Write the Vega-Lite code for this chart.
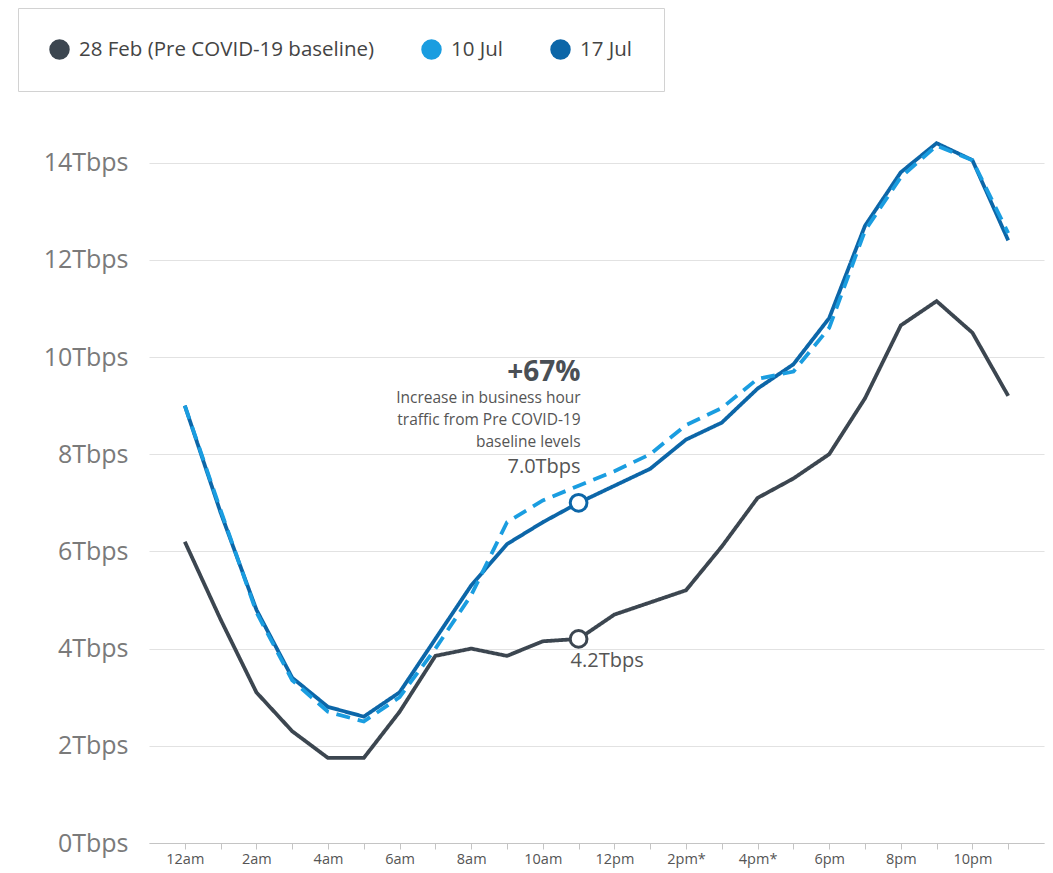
{
  "$schema": "https://vega.github.io/schema/vega-lite/v6.json",
  "autosize": "none",
  "padding": {"left": 149, "top": 114, "right": 9, "bottom": 30},
  "width": 895,
  "height": 729,
  "background": "white",
  "config": {
    "font": "Open Sans",
    "view": {"stroke": null}
  },
  "data": {
    "values": [
      {"hour": 0, "date": "28 Feb (Pre COVID-19 baseline)", "tbps": 6.2},
      {"hour": 1, "date": "28 Feb (Pre COVID-19 baseline)", "tbps": 4.6},
      {"hour": 2, "date": "28 Feb (Pre COVID-19 baseline)", "tbps": 3.1},
      {"hour": 3, "date": "28 Feb (Pre COVID-19 baseline)", "tbps": 2.3},
      {"hour": 4, "date": "28 Feb (Pre COVID-19 baseline)", "tbps": 1.75},
      {"hour": 5, "date": "28 Feb (Pre COVID-19 baseline)", "tbps": 1.75},
      {"hour": 6, "date": "28 Feb (Pre COVID-19 baseline)", "tbps": 2.7},
      {"hour": 7, "date": "28 Feb (Pre COVID-19 baseline)", "tbps": 3.85},
      {"hour": 8, "date": "28 Feb (Pre COVID-19 baseline)", "tbps": 4.0},
      {"hour": 9, "date": "28 Feb (Pre COVID-19 baseline)", "tbps": 3.85},
      {"hour": 10, "date": "28 Feb (Pre COVID-19 baseline)", "tbps": 4.15},
      {"hour": 11, "date": "28 Feb (Pre COVID-19 baseline)", "tbps": 4.2},
      {"hour": 12, "date": "28 Feb (Pre COVID-19 baseline)", "tbps": 4.7},
      {"hour": 13, "date": "28 Feb (Pre COVID-19 baseline)", "tbps": 4.95},
      {"hour": 14, "date": "28 Feb (Pre COVID-19 baseline)", "tbps": 5.2},
      {"hour": 15, "date": "28 Feb (Pre COVID-19 baseline)", "tbps": 6.1},
      {"hour": 16, "date": "28 Feb (Pre COVID-19 baseline)", "tbps": 7.1},
      {"hour": 17, "date": "28 Feb (Pre COVID-19 baseline)", "tbps": 7.5},
      {"hour": 18, "date": "28 Feb (Pre COVID-19 baseline)", "tbps": 8.0},
      {"hour": 19, "date": "28 Feb (Pre COVID-19 baseline)", "tbps": 9.15},
      {"hour": 20, "date": "28 Feb (Pre COVID-19 baseline)", "tbps": 10.65},
      {"hour": 21, "date": "28 Feb (Pre COVID-19 baseline)", "tbps": 11.15},
      {"hour": 22, "date": "28 Feb (Pre COVID-19 baseline)", "tbps": 10.5},
      {"hour": 23, "date": "28 Feb (Pre COVID-19 baseline)", "tbps": 9.2},
      {"hour": 0, "date": "17 Jul", "tbps": 9.0},
      {"hour": 1, "date": "17 Jul", "tbps": 6.8},
      {"hour": 2, "date": "17 Jul", "tbps": 4.8},
      {"hour": 3, "date": "17 Jul", "tbps": 3.4},
      {"hour": 4, "date": "17 Jul", "tbps": 2.8},
      {"hour": 5, "date": "17 Jul", "tbps": 2.6},
      {"hour": 6, "date": "17 Jul", "tbps": 3.1},
      {"hour": 7, "date": "17 Jul", "tbps": 4.2},
      {"hour": 8, "date": "17 Jul", "tbps": 5.3},
      {"hour": 9, "date": "17 Jul", "tbps": 6.15},
      {"hour": 10, "date": "17 Jul", "tbps": 6.6},
      {"hour": 11, "date": "17 Jul", "tbps": 7.0},
      {"hour": 12, "date": "17 Jul", "tbps": 7.35},
      {"hour": 13, "date": "17 Jul", "tbps": 7.7},
      {"hour": 14, "date": "17 Jul", "tbps": 8.3},
      {"hour": 15, "date": "17 Jul", "tbps": 8.65},
      {"hour": 16, "date": "17 Jul", "tbps": 9.35},
      {"hour": 17, "date": "17 Jul", "tbps": 9.85},
      {"hour": 18, "date": "17 Jul", "tbps": 10.8},
      {"hour": 19, "date": "17 Jul", "tbps": 12.7},
      {"hour": 20, "date": "17 Jul", "tbps": 13.8},
      {"hour": 21, "date": "17 Jul", "tbps": 14.4},
      {"hour": 22, "date": "17 Jul", "tbps": 14.05},
      {"hour": 23, "date": "17 Jul", "tbps": 12.4},
      {"hour": 0, "date": "10 Jul", "tbps": 9.0},
      {"hour": 1, "date": "10 Jul", "tbps": 6.85},
      {"hour": 2, "date": "10 Jul", "tbps": 4.75},
      {"hour": 3, "date": "10 Jul", "tbps": 3.35},
      {"hour": 4, "date": "10 Jul", "tbps": 2.7},
      {"hour": 5, "date": "10 Jul", "tbps": 2.5},
      {"hour": 6, "date": "10 Jul", "tbps": 3.0},
      {"hour": 7, "date": "10 Jul", "tbps": 4.0},
      {"hour": 8, "date": "10 Jul", "tbps": 5.1},
      {"hour": 9, "date": "10 Jul", "tbps": 6.6},
      {"hour": 10, "date": "10 Jul", "tbps": 7.05},
      {"hour": 11, "date": "10 Jul", "tbps": 7.35},
      {"hour": 12, "date": "10 Jul", "tbps": 7.65},
      {"hour": 13, "date": "10 Jul", "tbps": 8.0},
      {"hour": 14, "date": "10 Jul", "tbps": 8.6},
      {"hour": 15, "date": "10 Jul", "tbps": 8.95},
      {"hour": 16, "date": "10 Jul", "tbps": 9.55},
      {"hour": 17, "date": "10 Jul", "tbps": 9.7},
      {"hour": 18, "date": "10 Jul", "tbps": 10.6},
      {"hour": 19, "date": "10 Jul", "tbps": 12.6},
      {"hour": 20, "date": "10 Jul", "tbps": 13.7},
      {"hour": 21, "date": "10 Jul", "tbps": 14.35},
      {"hour": 22, "date": "10 Jul", "tbps": 14.05},
      {"hour": 23, "date": "10 Jul", "tbps": 12.55}
    ]
  },
  "encoding": {
    "x": {
      "field": "hour",
      "type": "quantitative",
      "scale": {"domain": [-1, 24], "nice": false, "zero": false},
      "axis": {
        "title": null,
        "grid": false,
        "values": [0, 1, 2, 3, 4, 5, 6, 7, 8, 9, 10, 11, 12, 13, 14, 15, 16, 17, 18, 19, 20, 21, 22, 23],
        "labelExpr": "['12am','','2am','','4am','','6am','','8am','','10am','','12pm','','2pm*','','4pm*','','6pm','','8pm','','10pm',''][datum.value]",
        "labelFontSize": 14.5,
        "labelColor": "#555555",
        "labelPadding": 3,
        "tickSize": 6,
        "tickColor": "#c4c4c4",
        "domainColor": "#c4c4c4",
        "labelFlush": false,
        "labelOverlap": false
      }
    },
    "y": {
      "field": "tbps",
      "type": "quantitative",
      "scale": {"domain": [0, 15], "nice": false},
      "axis": {
        "title": null,
        "values": [0, 2, 4, 6, 8, 10, 12, 14],
        "labelExpr": "datum.value + 'Tbps'",
        "labelFontSize": 25,
        "labelColor": "#7a7a7a",
        "labelPadding": 21,
        "ticks": false,
        "domain": false,
        "grid": true,
        "gridColor": "#e2e2e2",
        "gridWidth": 1.2
      }
    }
  },
  "layer": [
    {
      "mark": {"type": "line", "strokeWidth": 3.8, "strokeJoin": "miter"},
      "encoding": {
        "color": {
          "field": "date",
          "type": "nominal",
          "scale": {
            "domain": ["28 Feb (Pre COVID-19 baseline)", "10 Jul", "17 Jul"],
            "range": ["#3c4650", "#1a9de0", "#0c66a8"]
          },
          "legend": {
            "title": null,
            "orient": "none",
            "legendX": -131,
            "legendY": -106,
            "direction": "horizontal",
            "symbolType": "circle",
            "symbolSize": 420,
            "symbolStrokeWidth": 0,
            "labelFontSize": 20.5,
            "labelColor": "#444444",
            "labelOffset": 9,
            "labelLimit": 400,
            "columnPadding": 46,
            "padding": 31,
            "strokeColor": "#d2d2d2",
            "fillColor": "white",
            "encode": {
              "symbols": {"update": {"fill": {"scale": "color", "field": "value"}, "strokeWidth": {"value": 0}}}
            }
          }
        },
        "strokeDash": {
          "field": "date",
          "type": "nominal",
          "scale": {
            "domain": ["28 Feb (Pre COVID-19 baseline)", "10 Jul", "17 Jul"],
            "range": [[1, 0], [14, 8], [1, 0]]
          },
          "legend": null
        }
      }
    },
    {
      "transform": [{"filter": "datum.hour == 11 && datum.date != '10 Jul'"}],
      "mark": {"type": "point", "filled": false, "fill": "white", "size": 280, "strokeWidth": 3, "opacity": 1},
      "encoding": {
        "stroke": {"field": "date", "type": "nominal", "scale": {"domain": ["28 Feb (Pre COVID-19 baseline)", "10 Jul", "17 Jul"], "range": ["#3c4650", "#1a9de0", "#0c66a8"]}, "legend": null}
      }
    },
    {
      "transform": [
        {"filter": "datum.hour == 11 && datum.date == '17 Jul'"},
        {"calculate": "format(datum.tbps, '.1f') + 'Tbps'", "as": "label"}
      ],
      "mark": {"type": "text", "align": "right", "baseline": "middle", "dx": 2, "dy": -36, "fontSize": 20, "color": "#555555"},
      "encoding": {"text": {"field": "label"}}
    },
    {
      "transform": [{"filter": "datum.hour == 11 && datum.date == '17 Jul'"}],
      "mark": {
        "type": "text",
        "align": "right",
        "baseline": "top",
        "dx": 2,
        "dy": -112,
        "fontSize": 15.5,
        "lineHeight": 22,
        "color": "#555555",
        "text": ["Increase in business hour", "traffic from Pre COVID-19", "baseline levels"]
      }
    },
    {
      "transform": [{"filter": "datum.hour == 11 && datum.date == '17 Jul'"}],
      "mark": {"type": "text", "align": "right", "baseline": "middle", "dx": 2, "dy": -130, "fontSize": 28, "fontWeight": "bold", "color": "#4a4f55", "text": "+67%"}
    },
    {
      "transform": [
        {"filter": "datum.hour == 11 && datum.date == '28 Feb (Pre COVID-19 baseline)'"},
        {"calculate": "format(datum.tbps, '.1f') + 'Tbps'", "as": "label"}
      ],
      "mark": {"type": "text", "align": "left", "baseline": "middle", "dx": -8, "dy": 22, "fontSize": 20, "color": "#555555"},
      "encoding": {"text": {"field": "label"}}
    }
  ]
}
